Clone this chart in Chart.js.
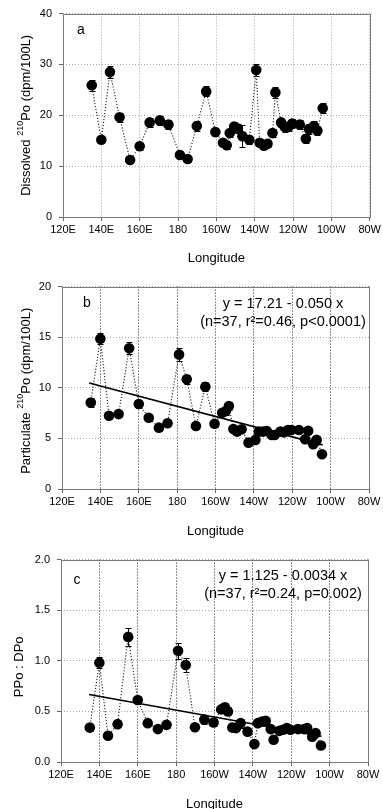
<!DOCTYPE html>
<html><head><meta charset="utf-8">
<script src="https://cdn.jsdelivr.net/npm/chart.js@4.4.1/dist/chart.umd.min.js"></script>
<style>
html,body{margin:0;padding:0;background:#fff;overflow:hidden;width:383px;height:809px;position:relative;}
canvas{position:absolute;left:0;}
</style></head><body>
<canvas id="ca" width="383" height="270" style="top:0px"></canvas>
<canvas id="cb" width="383" height="270" style="top:273px"></canvas>
<canvas id="cc" width="383" height="270" style="top:546px"></canvas>
<script>
// ---- data (longitude in degrees east; 180-280 = 180..80W) ----
const longitudes = [135,140,144.5,149.5,155,160,165.2,170.5,175,181,185,189.8,194.7,199.5,203.5,205.4,207,209.3,211.2,213.6,217.2,220.8,222.6,224.8,226.7,229.3,230.8,233.8,235.7,237.7,239.6,243.5,246.7,248.3,250.9,252.7,255.5];
const dissolvedPo = [25.9,15.2,28.5,19.6,11.2,13.9,18.6,19.0,18.2,12.2,11.4,17.9,24.7,16.7,14.6,14.1,16.5,17.8,17.4,15.9,15.2,28.9,14.6,14.0,14.4,16.5,24.5,18.6,17.7,17.8,18.4,18.2,15.4,17.3,17.9,17.0,21.4];
const dissolvedErr = [1.1,0.7,1.2,0.9,0.6,0.7,0.9,0.9,0.9,0.6,0.6,0.9,1.0,0.8,0.7,0.7,0.8,0.9,0.9,2.1,0.8,1.2,0.7,0.7,0.7,0.8,1.0,0.9,0.9,0.9,0.9,0.9,0.8,0.9,0.9,0.9,1.0];
const particulatePo = [8.55,14.85,7.24,7.4,13.9,8.4,7.04,6.06,6.5,13.3,10.85,6.22,10.1,6.45,7.53,7.7,8.2,5.93,5.67,5.9,4.58,4.85,5.67,5.67,5.73,5.34,5.34,5.67,5.6,5.83,5.83,5.83,4.92,5.76,4.43,4.85,3.44];
const particulateErr = [0.4,0.56,0.3,0.3,0.6,0.4,0.3,0.3,0.3,0.62,0.46,0.3,0.43,0.3,0.35,0.35,0.4,0.3,0.3,0.3,0.25,0.25,0.3,0.3,0.3,0.25,0.25,0.3,0.3,0.3,0.3,0.3,0.25,0.3,0.25,0.25,0.2];
const ratioPoDPo = [0.34,0.98,0.26,0.374,1.236,0.613,0.384,0.325,0.367,1.10,0.958,0.344,0.42,0.39,0.52,0.54,0.50,0.34,0.335,0.384,0.30,0.177,0.384,0.40,0.406,0.325,0.22,0.308,0.318,0.335,0.318,0.325,0.325,0.335,0.25,0.285,0.163];
const ratioErr = [0.03,0.053,0.02,0.03,0.092,0.04,0.03,0.03,0.03,0.079,0.066,0.03,0.04,0.03,0.04,0.04,0.04,0.03,0.03,0.045,0.03,0.02,0.03,0.03,0.03,0.03,0.02,0.03,0.03,0.03,0.03,0.03,0.03,0.03,0.02,0.03,0.02];
// regression line end points
const fitLonB = [134.2, 255.8];
const fitB = [10.48, 4.36];
const fitLonC = [134.6, 255.8];
const fitC = [0.667, 0.255];
// ticks
const lonTicks = [120,140,160,180,200,220,240,260,280];
const lonTickLabels = ['120E','140E','160E','180','160W','140W','120W','100W','80W'];
const yTicksA = [0,10,20,30,40];
const yTicksB = [0,5,10,15,20];
const yTicksC = [0,0.5,1.0,1.5,2.0];
const eqB = ['y = 17.21 - 0.050 x', '(n=37, r\u00B2=0.46, p<0.0001)'];
const eqC = ['y = 1.125 - 0.0034 x', '(n=37, r\u00B2=0.24, p=0.002)'];

const FONT = "'Liberation Sans', Arial, Helvetica, sans-serif";

const decor = {
  id: 'decor',
  beforeDatasetsDraw(chart) {
    const o = chart.options.plugins.decor;
    const {ctx, scales: {x, y}} = chart;
    ctx.save();
    ctx.strokeStyle = '#000';
    ctx.lineWidth = 1;
    const vals = chart.data.datasets[0].data;
    vals.forEach((p, i) => {
      const e = o.err[i];
      const px = Math.round(x.getPixelForValue(p.x)) + 0.5;
      const y1 = Math.round(y.getPixelForValue(p.y + e)) + 0.5;
      const y2 = Math.round(y.getPixelForValue(p.y - e)) + 0.5;
      ctx.beginPath();
      ctx.moveTo(px, y1); ctx.lineTo(px, y2);
      ctx.moveTo(px - 3, y1); ctx.lineTo(px + 3, y1);
      ctx.moveTo(px - 3, y2); ctx.lineTo(px + 3, y2);
      ctx.stroke();
    });
    ctx.restore();
  },
  afterDraw(chart) {
    const o = chart.options.plugins.decor;
    const {ctx, chartArea: a} = chart;
    ctx.save();
    // frame
    ctx.strokeStyle = '#7a7a7a';
    ctx.lineWidth = 1;
    ctx.strokeRect(Math.round(a.left) + 0.5, Math.round(a.top) + 0.5, Math.round(a.right - a.left), Math.round(a.bottom - a.top));
    // panel letter
    ctx.fillStyle = '#000';
    ctx.font = '14px ' + FONT;
    ctx.textAlign = 'center';
    ctx.textBaseline = 'middle';
    ctx.fillText(o.letter, a.left + o.letterDx, a.top + o.letterDy);
    // equation
    if (o.eq) {
      ctx.font = '14.5px ' + FONT;
      o.eq.forEach((t, i) => ctx.fillText(t, o.eqX, a.top + o.eqDy + i * 18.5));
    }
    // y title with superscript
    const parts = o.ytitle;
    let total = 0;
    parts.forEach(p => { ctx.font = (p.sup ? '9px ' : '13px ') + FONT; p.w = ctx.measureText(p.t).width; total += p.w; });
    ctx.translate(o.ytitleX, (a.top + a.bottom) / 2 + (o.ytitleDy || 0));
    ctx.rotate(-Math.PI / 2);
    ctx.textAlign = 'left';
    ctx.textBaseline = 'middle';
    let cx = -total / 2;
    parts.forEach(p => {
      ctx.font = (p.sup ? '9px ' : '13px ') + FONT;
      ctx.fillText(p.t, cx, p.sup ? -5 : 0);
      cx += p.w;
    });
    ctx.restore();
  }
};

function makeChart(id, cfg) {
  const pts = longitudes.map((lon, i) => ({x: lon, y: cfg.values[i]}));
  const datasets = [{
    data: pts,
    showLine: true,
    borderColor: '#222',
    borderWidth: 1.1,
    borderDash: [1.2, 1.8],
    pointRadius: 5.3,
    pointHoverRadius: 5.3,
    pointBackgroundColor: '#000',
    pointBorderColor: '#000',
    pointBorderWidth: 0,
    order: 2
  }];
  if (cfg.fitX) {
    datasets.push({
      data: cfg.fitX.map((v, i) => ({x: v, y: cfg.fitY[i]})),
      showLine: true,
      borderColor: '#000',
      borderWidth: 1.6,
      pointRadius: 0,
      order: 1
    });
  }
  return new Chart(document.getElementById(id), {
    type: 'scatter',
    data: {datasets},
    plugins: [decor],
    options: {
      responsive: false,
      animation: false,
      events: [],
      layout: {padding: {top: 13, right: 383 - cfg.right, left: 0, bottom: 0}},
      plugins: {
        legend: {display: false},
        tooltip: {enabled: false},
        decor: cfg.decor
      },
      scales: {
        x: {
          type: 'linear', min: 120, max: 280,
          afterBuildTicks: s => { s.ticks = lonTicks.map(v => ({value: v})); },
          afterFit: s => { s.height = cfg.xh; },
          ticks: {
            callback: (v) => lonTickLabels[lonTicks.indexOf(v)],
            color: '#000', font: {family: FONT, size: 11}, padding: 2, maxRotation: 0, autoSkip: false
          },
          grid: {color: cfg.vgrid, lineWidth: 1, drawTicks: true, tickLength: 4, tickColor: '#666'},
          border: {display: false, dash: [1, 2]},
          title: {display: true, text: 'Longitude', color: '#000', font: {family: FONT, size: 13}, padding: {top: 0, bottom: 4}}
        },
        y: {
          type: 'linear', min: cfg.yTicks[0], max: cfg.yTicks[cfg.yTicks.length - 1],
          afterBuildTicks: s => { s.ticks = cfg.yTicks.map(v => ({value: v})); },
          afterFit: s => { s.width = cfg.left; },
          ticks: {
            callback: cfg.yfmt,
            color: '#000', font: {family: FONT, size: 11}, padding: 7
          },
          grid: {color: '#a8a8a8', lineWidth: 1, drawTicks: true, tickLength: 4, tickColor: '#666'},
          border: {display: false, dash: [1, 2]}
        }
      }
    }
  });
}

makeChart('ca', {
  values: dissolvedPo, left: 63, right: 370, xh: 53, yTicks: yTicksA, vgrid: '#a8a8a8',
  yfmt: v => String(v),
  decor: {err: dissolvedErr, letter: 'a', letterDx: 18, letterDy: 17, ytitleX: 26,
    ytitle: [{t: 'Dissolved '}, {t: '210', sup: true}, {t: 'Po (dpm/100L)'}]}
});
makeChart('cb', {
  values: particulatePo, left: 62, right: 369, xh: 54, yTicks: yTicksB, vgrid: '#222',
  yfmt: v => String(v), fitX: fitLonB, fitY: fitB,
  decor: {err: particulateErr, letter: 'b', letterDx: 25, letterDy: 17, ytitleX: 26, ytitleDy: 3,
    eq: eqB, eqX: 283, eqDy: 17,
    ytitle: [{t: 'Particulate '}, {t: '210', sup: true}, {t: 'Po (dpm/100L)'}]}
});
makeChart('cc', {
  values: ratioPoDPo, left: 61, right: 368, xh: 54, yTicks: yTicksC, vgrid: '#222',
  yfmt: v => v.toFixed(1), fitX: fitLonC, fitY: fitC,
  decor: {err: ratioErr, letter: 'c', letterDx: 16, letterDy: 21, ytitleX: 19, ytitleDy: 6,
    eq: eqC, eqX: 283, eqDy: 16,
    ytitle: [{t: 'PPo : DPo'}]}
});
</script>
</body></html>
